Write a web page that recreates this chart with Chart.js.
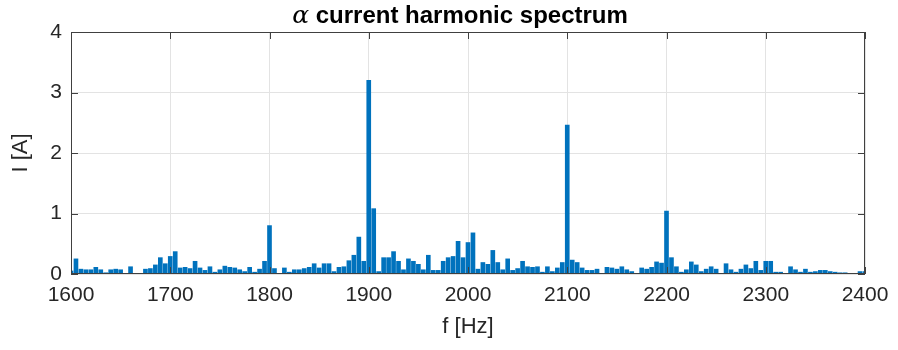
<!DOCTYPE html>
<html>
<head>
<meta charset="utf-8">
<script src="https://cdn.jsdelivr.net/npm/chart.js@4/dist/chart.umd.min.js"></script>
<style>
    html, body { margin: 0; padding: 0; background: #fff; }
    #wrap { width: 898px; height: 350px; position: relative; }
</style>
</head>
<body>
<div id="wrap"><canvas id="spectrum"></canvas></div>
<script>
// 谐波频谱数据（每 5 Hz 一根柱）
const freqStart = 1600;
const freqStep = 5;
const xTicks = [1600, 1700, 1800, 1900, 2000, 2100, 2200, 2300, 2400];
const yTicks = [0, 1, 2, 3, 4];
const amplitudes = [
    // 1600 - 1695
    0.05, 0.25, 0.08, 0.07, 0.07, 0.11, 0.07, 0.02, 0.07, 0.08, 0.07, 0.01, 0.12, 0.01, 0.01, 0.08, 0.09, 0.15, 0.27, 0.17,
    // 1700 - 1795
    0.29, 0.37, 0.10, 0.11, 0.09, 0.21, 0.10, 0.06, 0.12, 0.03, 0.07, 0.13, 0.11, 0.10, 0.07, 0.04, 0.11, 0.03, 0.08, 0.21,
    // 1800 - 1895
    0.80, 0.09, 0.01, 0.10, 0.03, 0.07, 0.07, 0.09, 0.11, 0.17, 0.10, 0.17, 0.17, 0.04, 0.11, 0.12, 0.22, 0.31, 0.61, 0.21,
    // 1900 - 1995
    3.20, 1.08, 0.04, 0.27, 0.27, 0.37, 0.21, 0.07, 0.25, 0.21, 0.16, 0.07, 0.31, 0.06, 0.06, 0.21, 0.27, 0.29, 0.54, 0.27,
    // 2000 - 2095
    0.52, 0.68, 0.08, 0.19, 0.16, 0.39, 0.19, 0.07, 0.25, 0.06, 0.09, 0.21, 0.12, 0.11, 0.12, 0.03, 0.12, 0.04, 0.10, 0.19,
    // 2100 - 2195
    2.46, 0.23, 0.19, 0.10, 0.06, 0.06, 0.08, 0.01, 0.11, 0.10, 0.08, 0.12, 0.07, 0.04, 0.01, 0.10, 0.08, 0.11, 0.20, 0.18,
    // 2200 - 2295
    1.04, 0.27, 0.12, 0.03, 0.07, 0.20, 0.15, 0.04, 0.08, 0.12, 0.08, 0.01, 0.17, 0.07, 0.03, 0.08, 0.15, 0.09, 0.21, 0.06,
    // 2300 - 2395
    0.21, 0.21, 0.03, 0.03, 0.01, 0.12, 0.07, 0.03, 0.08, 0.03, 0.04, 0.06, 0.06, 0.04, 0.03, 0.02, 0.02, 0.01, 0.00, 0.04,
    // 2400
    0.04
];

const axisColor = '#404040';
const gridColor = '#e3e3e3';
const barColor = '#0072bd';
const fontFamily = '"Liberation Sans", Arial, sans-serif';

// 标题：希腊字母用斜体衬线，其余用粗体
const titlePlugin = {
    id: 'mixedTitle',
    afterDraw(chart) {
        const { ctx, chartArea } = chart;
        const greek = 'α';
        const rest = ' current harmonic spectrum';
        ctx.save();
        ctx.fillStyle = '#000';
        ctx.textBaseline = 'alphabetic';
        const greekFont = 'italic 25px "DejaVu Serif", "Liberation Serif", serif';
        const restFont = 'bold 24px ' + fontFamily;
        ctx.font = greekFont;
        const w1 = ctx.measureText(greek).width;
        ctx.font = restFont;
        const w2 = ctx.measureText(rest).width;
        const cx = (chartArea.left + chartArea.right) / 2 - 8;
        const x = cx - (w1 + w2) / 2;
        const y = 23;
        ctx.font = greekFont;
        ctx.fillText(greek, x, y);
        ctx.font = restFont;
        ctx.fillText(rest, x + w1, y);
        ctx.restore();
    }
};

// MATLAB 风格的外框和朝内刻度
const boxPlugin = {
    id: 'boxTicks',
    afterDatasetsDraw(chart) {
        const { ctx, chartArea: a, scales } = chart;
        ctx.save();
        ctx.strokeStyle = axisColor;
        ctx.lineWidth = 1;
        ctx.strokeRect(a.left + 0.5, a.top + 0.5, a.right - a.left - 1, a.bottom - a.top - 1);
        const len = 7;
        ctx.beginPath();
        xTicks.forEach(v => {
            const px = Math.round(scales.x.getPixelForValue(v)) + 0.5;
            ctx.moveTo(px, a.bottom);
            ctx.lineTo(px, a.bottom - len);
            ctx.moveTo(px, a.top);
            ctx.lineTo(px, a.top + len);
        });
        yTicks.forEach(v => {
            const py = Math.round(scales.y.getPixelForValue(v)) + 0.5;
            ctx.moveTo(a.left, py);
            ctx.lineTo(a.left + len, py);
            ctx.moveTo(a.right, py);
            ctx.lineTo(a.right - len, py);
        });
        ctx.stroke();
        ctx.restore();
    }
};

const points = amplitudes.map((v, i) => ({ x: freqStart + i * freqStep, y: v }));

new Chart(document.getElementById('spectrum').getContext('2d'), {
    type: 'bar',
    data: {
        datasets: [{
            data: points,
            backgroundColor: barColor,
            borderWidth: 0,
            barThickness: 4
        }]
    },
    options: {
        responsive: true,
        maintainAspectRatio: false,
        animation: false,
        layout: { padding: { top: 32, right: 33, bottom: 10, left: 8 } },
        plugins: {
            legend: { display: false },
            tooltip: { enabled: false }
        },
        scales: {
            x: {
                type: 'linear',
                min: 1600,
                max: 2400,
                offset: false,
                afterFit: s => { s.height = 66; },
                afterBuildTicks: s => { s.ticks = xTicks.map(v => ({ value: v })); },
                ticks: {
                    color: '#262626',
                    padding: 9,
                    maxRotation: 0,
                    callback: v => String(v),
                    font: { family: fontFamily, size: 21 }
                },
                grid: { color: gridColor, drawTicks: false, offset: false },
                border: { display: false },
                title: {
                    display: true,
                    text: 'f [Hz]',
                    color: '#262626',
                    padding: 0,
                    font: { family: fontFamily, size: 22 }
                }
            },
            y: {
                min: 0,
                max: 4,
                afterFit: s => { s.width = 63; },
                afterBuildTicks: s => { s.ticks = yTicks.map(v => ({ value: v })); },
                ticks: {
                    color: '#262626',
                    padding: 9,
                    font: { family: fontFamily, size: 21 }
                },
                grid: { color: gridColor, drawTicks: false },
                border: { display: false },
                title: {
                    display: true,
                    text: 'I [A]',
                    color: '#262626',
                    padding: 0,
                    font: { family: fontFamily, size: 22 }
                }
            }
        }
    },
    plugins: [titlePlugin, boxPlugin]
});
</script>
</body>
</html>
